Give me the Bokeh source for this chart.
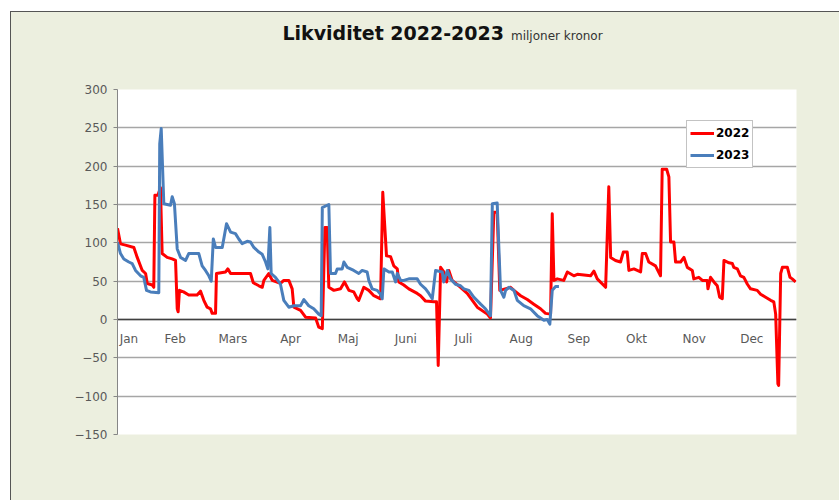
from bokeh.plotting import figure
from bokeh.models import (Range1d, FixedTicker, Span, Legend, LegendItem, Div)
from bokeh.layouts import column
from bokeh.embed import file_html
from bokeh.resources import INLINE

# ---- data (day of year, value in miljoner kronor) ----
months = ["\u2007\u2007\u2007Jan", "Feb", "Mars", "Apr", "Maj", "Juni", "Juli", "Aug", "Sep", "Okt", "Nov", "Dec"]
month_ticks = [0, 31, 62, 93, 124, 155, 186, 217, 248, 279, 310, 341]
y_ticks = [-150, -100, -50, 0, 50, 100, 150, 200, 250, 300]

day_2022 = [0, 1.6, 4.3, 8.8, 10.6, 13.3, 15.1, 16.0, 18.7, 19.5, 20.1, 21.7, 23.1, 24.0, 26.7,
            29.4, 31.2, 32.1, 32.6, 33.3, 35.5, 38.3, 42.8, 44.6, 46.4, 48.2, 50.0, 50.9, 52.7,
            53.2, 58.1, 59.3, 60.8, 71.5, 73.0, 76.0, 77.8, 78.7, 81.3, 83.2, 87.6, 89.4, 92.1,
            93.9, 94.8, 98.4, 101.1, 106.5, 108.2, 110.1, 111.5, 112.7, 113.6, 116.3, 119.9,
            122.0, 124.4, 127.0, 128.9, 129.7, 132.4, 135.1, 137.8, 141.4, 142.6, 144.6, 146.8,
            148.5, 150.4, 151.2, 153.9, 156.6, 161.1, 162.9, 165.6, 170.1, 171.5, 172.4, 173.7,
            175.4, 176.9, 178.1, 179.9, 184.4, 188.0, 193.4, 198.8, 200.5, 202.3, 204.1, 205.5,
            211.3, 213.1, 216.7, 220.3, 223.8, 227.4, 230.1, 232.8, 233.7, 234.6, 236.4, 239.9,
            241.8, 245.3, 247.2, 254.3, 256.1, 257.9, 262.4, 264.1, 265.1, 267.7, 270.4, 271.9,
            274.0, 274.9, 277.6, 281.2, 282.1, 283.9, 285.6, 289.2, 291.9, 292.8, 295.2, 296.4,
            297.3, 299.1, 300.0, 302.7, 304.5, 306.3, 309.0, 309.8, 312.5, 314.4, 317.0, 317.4,
            318.8, 320.6, 322.4, 323.7, 325.1, 326.0, 328.7, 330.5, 331.3, 333.2, 334.9, 336.7,
            338.6, 340.3, 343.9, 345.7, 348.4, 351.1, 352.8, 353.8, 354.7, 355.0, 355.4, 356.5,
            357.4, 360.1, 361.5, 362.7, 364.5]
val_2022 = [119, 98.7, 97, 94, 81, 64, 60, 47, 45, 42, 162, 162, 172, 86, 81,
            79, 77, 14, 10, 38, 36, 32, 32, 37, 25, 16, 14, 8, 8,
            60, 62, 66, 60, 60, 48, 44, 42, 51, 60, 51, 47, 51, 51,
            40, 16, 12, 3, 2, -10, -12, 120, 120, 42, 38, 40,
            49, 38, 36, 27, 25, 42, 38, 31, 27, 166, 83, 82,
            70, 66, 49, 45, 40, 34, 31, 24, 23, 23, -60, 68,
            62, 49, 64, 51, 42, 34, 16, 7, 2, 140, 140, 38,
            42, 38, 31, 26, 20, 14, 8, 7, 138, 51, 53, 51,
            62, 57, 59, 57, 63, 53, 42, 173, 81, 77, 75, 88,
            88, 64, 66, 62, 86, 86, 75, 70, 57, 196, 196, 186,
            101, 101, 75, 75, 81, 68, 64, 53, 55, 51, 51, 40,
            55, 49, 44, 29, 27, 77, 74, 73, 68, 66, 57, 55,
            46, 40, 38, 33, 29, 25, 23, 7, -62, -84, -86, 60,
            68, 68, 55, 53, 49]

day_2023 = [0, 1.6, 3.4, 6.1, 7.9, 9.7, 12.4, 14.1, 15.6, 17.7, 22.2, 22.7, 23.5, 24.9, 28.5,
            29.4, 30.6, 32.1, 33.9, 36.6, 38.3, 43.7, 45.5, 47.3, 49.1, 50.4, 51.5, 52.7, 56.3,
            58.6, 60.8, 63.4, 65.2, 67.0, 69.7, 71.5, 73.3, 76.0, 77.8, 79.6, 80.8, 81.9, 82.6,
            84.9, 87.6, 89.4, 92.1, 94.8, 98.4, 100.2, 102.8, 105.5, 108.2, 109.5, 110.1, 112.7,
            113.6, 114.5, 117.2, 118.1, 120.8, 121.7, 123.5, 127.0, 129.7, 131.5, 134.2, 135.1,
            136.9, 139.6, 141.4, 142.3, 143.2, 145.9, 147.7, 149.5, 150.4, 152.2, 153.9, 156.6,
            161.1, 162.9, 165.6, 167.4, 169.2, 171.0, 174.6, 175.4, 177.3, 179.0, 181.7, 184.4,
            186.2, 188.9, 191.6, 195.2, 197.8, 200.5, 201.5, 204.1, 205.0, 205.9, 207.7, 208.6,
            210.4, 213.1, 214.9, 218.4, 222.0, 225.6, 229.2, 231.0, 232.4, 233.7, 235.5, 237.3]
val_2023 = [101, 86, 79, 75, 73, 64, 57, 55, 38, 36, 35, 229, 249, 151, 149,
            160, 151, 92, 81, 77, 86, 86, 70, 64, 57, 50, 105, 94, 94,
            125, 114, 112, 105, 99, 102, 101, 94, 88, 85, 75, 66, 120, 60,
            55, 46, 25, 16, 18, 18, 26, 18, 14, 7, 5, 146, 149,
            150, 60, 60, 66, 66, 75, 68, 64, 60, 64, 62, 51,
            40, 38, 33, 27, 66, 62, 62, 49, 60, 51, 51, 53,
            53, 46, 40, 34, 27, 64, 62, 49, 64, 53, 46, 44,
            40, 38, 29, 20, 14, 5, 151, 152, 94, 38, 29, 38,
            42, 38, 25, 18, 14, 5, -1, 0, -6, 38, 43, 43]

BG = "#ECEFDF"
W = 828
TITLE_H = 44

title_html = (
    '<div style="position:relative;width:%dpx;height:%dpx;">'
    '<span style="position:absolute;right:335px;top:12px;line-height:19px;white-space:nowrap;'
    'font-family:\'DejaVu Sans\';font-weight:bold;font-size:19px;color:#111111;">Likviditet 2022-2023</span>'
    '<span style="position:absolute;left:500px;top:18px;line-height:12px;white-space:nowrap;'
    'font-family:\'DejaVu Sans\';font-size:12px;color:#333333;">miljoner kronor</span>'
    '</div>' % (W, TITLE_H)
)
title = Div(text=title_html, width=W, height=TITLE_H,
            styles={"background-color": BG, "margin": "0", "padding": "0"})

p = figure(width=W, height=488 - TITLE_H, output_backend="svg", toolbar_location=None,
           x_range=Range1d(0, 365), y_range=Range1d(-150, 300),
           min_border_left=106, min_border_right=43, min_border_top=89 - 12 - TITLE_H,
           min_border_bottom=66,
           background_fill_color="white", border_fill_color=BG, outline_line_color=None)

# y axis
p.yaxis.ticker = FixedTicker(ticks=y_ticks)
p.yaxis.axis_line_color = "#868686"
p.yaxis.major_tick_line_color = "#868686"
p.yaxis.major_tick_in = 0
p.yaxis.major_tick_out = 4
p.yaxis.minor_tick_line_color = None
p.yaxis.major_label_standoff = 6
p.yaxis.major_label_text_font = "DejaVu Sans"
p.yaxis.major_label_text_font_size = "12px"
p.yaxis.major_label_text_color = "#595959"

# x axis: sits at zero like the original
p.xaxis.fixed_location = 0
p.xaxis.ticker = FixedTicker(ticks=month_ticks)
p.xaxis.major_label_overrides = {t: m for t, m in zip(month_ticks, months)}
p.xaxis.axis_line_color = None
p.xaxis.major_tick_line_color = None
p.xaxis.minor_tick_line_color = None
p.xaxis.major_label_standoff = 6
p.xaxis.major_label_text_font = "DejaVu Sans"
p.xaxis.major_label_text_font_size = "12px"
p.xaxis.major_label_text_color = "#595959"

p.xgrid.grid_line_color = None
p.ygrid.ticker = FixedTicker(ticks=y_ticks)
p.ygrid.grid_line_color = "#A6A6A6"
p.ygrid.grid_line_width = 1.5

zero = Span(location=0, dimension="width", line_color="#404040", line_width=1.5, level="underlay")
p.add_layout(zero)

r22 = p.line(day_2022, val_2022, line_color="#FF0000", line_width=3, line_join="round")
r23 = p.line(day_2023, val_2023, line_color="#4A7EBB", line_width=3, line_join="round")

legend = Legend(items=[LegendItem(label="2022", renderers=[r22]),
                       LegendItem(label="2023", renderers=[r23])],
                location=(569, 266), orientation="vertical",
                label_text_font="DejaVu Sans", label_text_font_style="bold",
                label_text_font_size="12px", label_text_color="black",
                glyph_width=24, glyph_height=18, label_height=18, label_standoff=2,
                spacing=4, padding=3, margin=0,
                border_line_color="#888888", border_line_width=1,
                background_fill_color="white", background_fill_alpha=1.0)
p.add_layout(legend)

layout = column(title, p, spacing=0,
                styles={"margin-left": "10px", "margin-top": "11px",
                        "border-top": "1px solid #555555", "border-left": "1px solid #555555",
                        "background-color": BG})

open("out.html", "w").write(file_html(layout, INLINE))
